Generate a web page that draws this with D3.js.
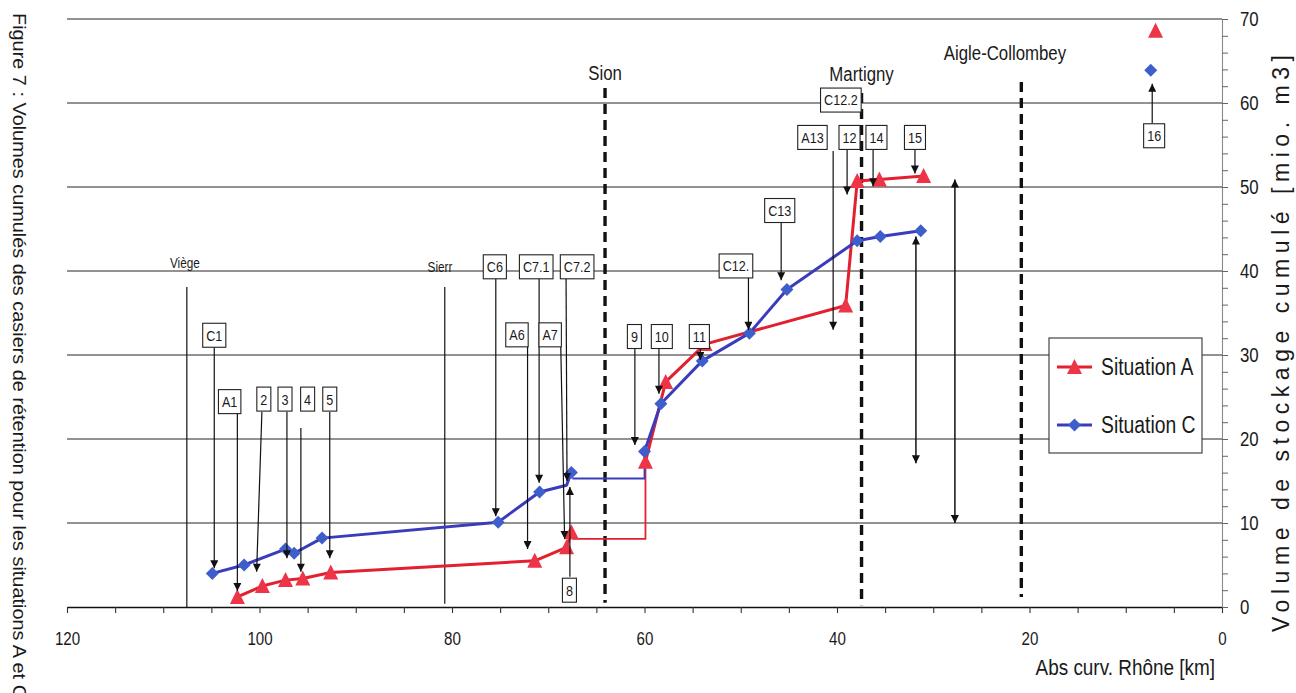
<!DOCTYPE html>
<html>
<head>
<meta charset="utf-8">
<script src="https://cdn.jsdelivr.net/npm/d3@7"></script>
<style>
  html, body { margin: 0; padding: 0; background: #fff; }
  svg { display: block; }
  text { font-family: "Liberation Sans", Arial, Helvetica, sans-serif; fill: #1a1a1a; }
</style>
</head>
<body>
<svg id="chart" width="1296" height="693"></svg>
<script>
// ---- Situation A (red triangles): upstream reach, step at Sion, downstream reach
const aUpKm   = [102.3, 99.7, 97.3, 95.5, 92.6, 71.4, 68.1, 67.6];
const aUpVol  = [1.2, 2.5, 3.2, 3.4, 4.1, 5.5, 7.1, 8.9];
const aStepKm  = [67.5, 59.9, 59.9];
const aStepVol = [8.1, 8.1, 17.3];
const aDownKm  = [59.9, 57.8, 53.7, 39.1, 37.9, 35.6, 31.0];
const aDownVol = [17.3, 26.8, 31.3, 35.9, 50.7, 50.9, 51.3];
const aLoneKm = [6.9], aLoneVol = [68.6];

// ---- Situation C (blue diamonds)
const cUpKm    = [104.9, 101.6, 97.3, 96.4, 93.5, 75.2, 70.9, 68.1, 67.6];
const cUpVol   = [4.0, 5.0, 6.9, 6.4, 8.2, 10.1, 13.7, 14.5, 16.0];
const cUpMarked = [1, 1, 1, 1, 1, 1, 1, 0, 1];
const cStepKm  = [67.5, 60.0, 60.0];
const cStepVol = [15.3, 15.3, 18.5];
const cDownKm  = [60.0, 58.3, 54.0, 49.1, 45.2, 37.9, 35.5, 31.3];
const cDownVol = [18.5, 24.2, 29.3, 32.6, 37.8, 43.6, 44.1, 44.8];
const cLoneKm = [7.4], cLoneVol = [63.9];

// ---- Axes
const kmTicks = d3.range(0, 121, 5);
const kmTickLabels = [120, 100, 80, 60, 40, 20, 0];
const volTicks = d3.range(0, 71, 2);
const volTickLabels = [0, 10, 20, 30, 40, 50, 60, 70];
const gridVols = [10, 20, 30, 40, 50, 60, 70];

// ---- Towns along the Rhône
const townNames  = ["Viège", "Sierr", "Sion", "Martigny", "Aigle-Collombey"];
const townKm     = [107.55, 80.75, 64.1, 37.45, 20.85];
const townTop    = [38.1, 38.1, 61.8, 61.2, 62.5];
const townBottom = [0, 0.4, 0.5, 0.2, 1.2];
const townDashed = [false, false, true, true, true];
const townLabelKm  = [107.75, 81.25, 64.1, 37.45, 22.55];
const townLabelVol = [40.9, 40.5, 63.6, 63.5, 66.0];
const townLabelSize = [14, 14, 20, 20, 20];

// ---- Retention basin callouts (boxed labels)
const noteLabels = ["C1", "A1", "2", "3", "4", "5", "C6", "C7.1", "C7.2", "A6", "A7", "8",
                    "9", "10", "11", "C12.", "C13", "C12.2", "A13", "12", "14", "15", "16"];
const noteKm  = [104.7, 103.1, 99.55, 97.35, 95.0, 92.7, 75.55, 71.25, 67.0, 73.25, 69.8, 67.8,
                 61.05, 58.2, 54.3, 50.5, 45.95, 39.6, 42.55, 38.7, 35.9, 31.9, 7.05];
const noteVol = [32.35, 24.45, 24.75, 24.75, 24.75, 24.75, 40.5, 40.5, 40.5, 32.4, 32.4, 2.0,
                 32.2, 32.2, 32.2, 40.6, 47.2, 60.35, 55.9, 55.9, 55.9, 55.9, 56.1];

// callout arrows: [km from, vol from, km to, vol to]
const noteArrows = [
  [104.7, 31.0, 104.7, 4.6],
  [102.3, 23.05, 102.3, 1.9],
  [99.75, 23.25, 100.3, 4.2],
  [97.15, 23.25, 97.15, 5.8],
  [95.7, 21.3, 95.7, 4.2],
  [92.7, 23.25, 92.7, 5.8],
  [75.45, 39.1, 75.45, 10.8],
  [70.95, 39.1, 70.95, 14.8],
  [68.15, 39.1, 68.05, 15.0],
  [72.15, 31.0, 72.15, 6.9],
  [68.7, 31.0, 68.3, 8.1],
  [67.75, 3.6, 67.75, 14.3],
  [61.0, 30.8, 61.0, 19.3],
  [58.5, 30.8, 58.5, 25.4],
  [54.2, 30.8, 54.2, 29.4],
  [49.2, 39.3, 49.2, 33.0],
  [45.8, 45.7, 45.8, 38.9],
  [40.4, 54.3, 40.4, 33.0],
  [38.95, 54.4, 38.95, 49.1],
  [36.25, 54.4, 36.25, 50.1],
  [31.9, 54.4, 31.9, 51.6],
  [7.25, 57.6, 7.25, 62.3]
];
// two-headed arrows showing the A / C volume gap
const gapArrows = [
  [31.8, 17.1, 31.8, 44.1],
  [27.75, 10.0, 27.75, 50.9]
];

const legendNames = ["Situation A", "Situation C"];

// ---- Styles
const RED_LINE = "#e3202f", RED_MARK = "#ee3447";
const BLUE_LINE = "#3a3cbc", BLUE_MARK = "#3e5ecb";
const NARROW = 0.84;

const svg = d3.select("#chart");
const x = d3.scaleLinear().domain([120, 0]).range([67, 1222]);
const y = d3.scaleLinear().domain([0, 70]).range([607, 19]);

// condensed lettering (Arial Narrow look)
function narrow(sel, ratio = NARROW) {
  sel.each(function () {
    const w = this.getComputedTextLength();
    this.setAttribute("textLength", (w * ratio).toFixed(2));
    this.setAttribute("lengthAdjust", "spacingAndGlyphs");
  });
  return sel;
}

const defs = svg.append("defs");
defs.append("marker")
  .attr("id", "head")
  .attr("viewBox", "0 0 10 10")
  .attr("refX", 10).attr("refY", 5)
  .attr("markerWidth", 9).attr("markerHeight", 8)
  .attr("markerUnits", "userSpaceOnUse")
  .attr("orient", "auto-start-reverse")
  .append("path").attr("d", "M0,0 L10,5 L0,10 Z").attr("fill", "#111");

// ---- Grid
svg.append("g").selectAll("line").data(gridVols).join("line")
  .attr("x1", x(120)).attr("x2", x(0))
  .attr("y1", d => y(d)).attr("y2", d => y(d))
  .attr("stroke", "#262626").attr("stroke-width", 1.1);

// ---- Axes
const xAxis = svg.append("g")
  .attr("transform", `translate(0,${y(0)})`)
  .call(d3.axisBottom(x).tickValues(kmTicks).tickSize(6).tickSizeOuter(0).tickPadding(19)
    .tickFormat(d => kmTickLabels.includes(d) ? d : ""));
xAxis.select(".domain").attr("stroke", "#111").attr("stroke-width", 1.4);
xAxis.selectAll(".tick line").attr("stroke", "#333").attr("stroke-width", 1.1);
xAxis.selectAll("text").style("font-size", "18px").attr("fill", "#1a1a1a");
narrow(xAxis.selectAll("text").filter(function () { return this.textContent !== ""; }));

const yAxis = svg.append("g")
  .attr("transform", `translate(${x(0)},0)`)
  .call(d3.axisRight(y).tickValues(volTicks).tickSize(6).tickSizeOuter(0).tickPadding(12)
    .tickFormat(d => volTickLabels.includes(d) ? d : ""));
yAxis.select(".domain").attr("stroke", "#8a8a8a").attr("stroke-width", 1.1);
yAxis.selectAll(".tick line").attr("stroke", "#666").attr("stroke-width", 1);
yAxis.selectAll("text").style("font-size", "20px").attr("fill", "#1a1a1a");
narrow(yAxis.selectAll("text").filter(function () { return this.textContent !== ""; }));

// axis titles
narrow(svg.append("text")
  .attr("x", 1215).attr("y", 675).attr("text-anchor", "end")
  .style("font-size", "22px").text("Abs curv. Rhône [km]"), 0.86);

svg.append("text")
  .attr("transform", "translate(1289,632) rotate(-90)")
  .attr("textLength", 577).attr("lengthAdjust", "spacing")
  .style("font-size", "23px").text("Volume de stockage cumulé [mio. m3]");

// figure caption along the left margin
svg.append("text")
  .attr("transform", "translate(13,13) rotate(90)")
  .attr("textLength", 686).attr("lengthAdjust", "spacingAndGlyphs")
  .style("font-size", "19px")
  .text("Figure 7 : Volumes cumulés des casiers de rétention pour les situations A et C");

// ---- Town reference lines
const towns = svg.append("g");
townNames.forEach((name, i) => {
  towns.append("line")
    .attr("x1", x(townKm[i])).attr("x2", x(townKm[i]))
    .attr("y1", y(townTop[i])).attr("y2", y(townBottom[i]))
    .attr("stroke", "#111")
    .attr("stroke-width", townDashed[i] ? 3.4 : 1.2)
    .attr("stroke-dasharray", townDashed[i] ? "10,6" : null);
  narrow(towns.append("text")
    .attr("x", x(townLabelKm[i])).attr("y", y(townLabelVol[i]))
    .attr("text-anchor", "middle").attr("dy", "0.35em")
    .style("font-size", townLabelSize[i] + "px").text(name));
});

// ---- Series
const line = d3.line().x(d => x(d[0])).y(d => y(d[1]));
const zip = (a, b) => a.map((v, i) => [v, b[i]]);

const triPath = "M0,-8 L7.5,7 L-7.5,7 Z";
const diaPath = "M0,-6.5 L6.5,0 L0,6.5 L-6.5,0 Z";

const series = svg.append("g");
// step connectors across the Sion reach
series.append("path").attr("d", line(zip(aStepKm, aStepVol)))
  .attr("fill", "none").attr("stroke", RED_LINE).attr("stroke-width", 1.8);
series.append("path").attr("d", line(zip(cStepKm, cStepVol)))
  .attr("fill", "none").attr("stroke", BLUE_LINE).attr("stroke-width", 1.8);

function drawSeries(pts, color, width) {
  series.append("path").attr("d", line(pts))
    .attr("fill", "none").attr("stroke", color).attr("stroke-width", width)
    .attr("stroke-linejoin", "round");
}
function drawMarks(pts, shape, fill) {
  series.append("g").selectAll("path").data(pts).join("path")
    .attr("d", shape).attr("fill", fill)
    .attr("transform", d => `translate(${x(d[0])},${y(d[1])})`);
}

drawSeries(zip(aUpKm, aUpVol), RED_LINE, 3);
drawSeries(zip(aDownKm, aDownVol), RED_LINE, 3);
drawMarks(zip(aUpKm, aUpVol), triPath, RED_MARK);
drawMarks(zip(aDownKm, aDownVol), triPath, RED_MARK);
drawMarks(zip(aLoneKm, aLoneVol), triPath, RED_MARK);

drawSeries(zip(cUpKm, cUpVol), BLUE_LINE, 3);
drawSeries(zip(cDownKm, cDownVol), BLUE_LINE, 3);
drawMarks(zip(cUpKm, cUpVol).filter((d, i) => cUpMarked[i]), diaPath, BLUE_MARK);
drawMarks(zip(cDownKm, cDownVol), diaPath, BLUE_MARK);
drawMarks(zip(cLoneKm, cLoneVol), diaPath, BLUE_MARK);

// ---- Callout arrows
const arrows = svg.append("g").attr("stroke", "#111").attr("stroke-width", 1.2);
arrows.selectAll("line.note").data(noteArrows).join("line").attr("class", "note")
  .attr("x1", d => x(d[0])).attr("y1", d => y(d[1]))
  .attr("x2", d => x(d[2])).attr("y2", d => y(d[3]))
  .attr("marker-end", "url(#head)");
arrows.selectAll("line.gap").data(gapArrows).join("line").attr("class", "gap")
  .attr("x1", d => x(d[0])).attr("y1", d => y(d[1]))
  .attr("x2", d => x(d[2])).attr("y2", d => y(d[3]))
  .attr("stroke-width", 1.5)
  .attr("marker-start", "url(#head)").attr("marker-end", "url(#head)");

// ---- Boxed callout labels
const notes = svg.append("g");
noteLabels.forEach((label, i) => {
  const g = notes.append("g").attr("transform", `translate(${x(noteKm[i])},${y(noteVol[i])})`);
  const r = g.append("rect");
  const t = g.append("text").attr("text-anchor", "middle").attr("dy", "0.36em")
    .style("font-size", "15px").text(label);
  narrow(t);
  const w = +t.attr("textLength") + 7, h = 24;
  r.attr("x", -w / 2).attr("y", -h / 2).attr("width", w).attr("height", h)
    .attr("fill", "#fff").attr("stroke", "#222").attr("stroke-width", 1.1);
});

// ---- Legend
const legend = svg.append("g").attr("transform", "translate(1049,338)");
legend.append("rect").attr("width", 153).attr("height", 115)
  .attr("fill", "#fff").attr("stroke", "#333").attr("stroke-width", 1.1);
const legendStyle = [[RED_LINE, RED_MARK, triPath], [BLUE_LINE, BLUE_MARK, diaPath]];
legendNames.forEach((name, i) => {
  const cy = 29 + i * 58;
  legend.append("line").attr("x1", 8).attr("x2", 43).attr("y1", cy).attr("y2", cy)
    .attr("stroke", legendStyle[i][0]).attr("stroke-width", 3);
  legend.append("path").attr("d", legendStyle[i][2]).attr("fill", legendStyle[i][1])
    .attr("transform", `translate(25.5,${cy})`);
  narrow(legend.append("text").attr("x", 52).attr("y", cy).attr("dy", "0.36em")
    .style("font-size", "23px").text(name));
});
</script>
</body>
</html>
